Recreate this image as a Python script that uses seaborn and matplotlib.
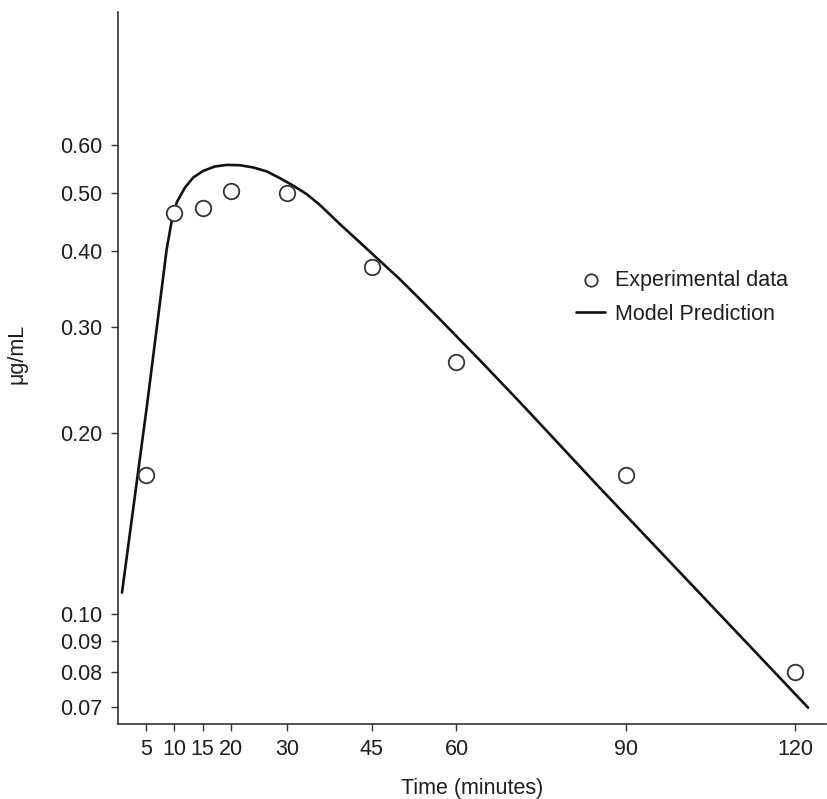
import matplotlib
matplotlib.use("Agg")
import matplotlib.pyplot as plt
import matplotlib.ticker as mticker
import seaborn as sns
import pandas as pd

# Experimental data
time_obs = [5, 10, 15, 20, 30, 45, 60, 90, 120]
conc_obs = [0.170, 0.463, 0.472, 0.505, 0.501, 0.377, 0.262, 0.170, 0.080]

# Model prediction
time_model = [0.71, 5.14, 8.63, 9.52, 10.41, 11.88, 13.35, 15.12, 17.2, 19.27, 21.63,
              23.99, 26.37, 28.72, 31.08, 33.46, 35.82, 39.36, 42.91, 46.45, 50.0,
              53.55, 57.09, 64.18, 71.28, 85.46, 103.19, 122.34]
conc_model = [0.1084, 0.2219, 0.4034, 0.4494, 0.4826, 0.5109, 0.5309, 0.5445, 0.5537,
              0.5570, 0.5563, 0.5516, 0.5433, 0.5294, 0.5144, 0.4980, 0.4776, 0.4439,
              0.4138, 0.3857, 0.3594, 0.3331, 0.3084, 0.2636, 0.2245, 0.1617, 0.1080,
              0.0698]

x_ticks = [5, 10, 15, 20, 30, 45, 60, 90, 120]
y_ticks = [0.07, 0.08, 0.09, 0.10, 0.20, 0.30, 0.40, 0.50, 0.60]
y_tick_labels = ["0.07", "0.08", "0.09", "0.10", "0.20", "0.30", "0.40", "0.50", "0.60"]

sns.set_style("ticks")
plt.rcParams["font.family"] = ["Liberation Sans", "DejaVu Sans"]
plt.rcParams["font.size"] = 15.5

fig = plt.figure(figsize=(8.28, 7.99), dpi=100)
ax = fig.add_axes([0.1425, 0.094, 0.855, 0.891])

df_model = pd.DataFrame({"t": time_model, "c": conc_model})
df_obs = pd.DataFrame({"t": time_obs, "c": conc_obs})

ink = "#1e1e1e"
sns.lineplot(data=df_model, x="t", y="c", ax=ax, color="#111111", linewidth=1.9,
             label="Model Prediction", zorder=2, sort=False,
             solid_joinstyle="round", solid_capstyle="round")
sns.scatterplot(data=df_obs, x="t", y="c", ax=ax, s=125, facecolor="white",
                edgecolor="#333333", linewidth=1.3, label="Experimental data", zorder=3)

ax.set_yscale("log")
ax.set_xlim(0, 125.5)
ax.set_ylim(0.0656, 1.0)
ax.xaxis.set_major_locator(mticker.FixedLocator(x_ticks))
ax.yaxis.set_major_locator(mticker.FixedLocator(y_ticks))
ax.yaxis.set_major_formatter(mticker.FixedFormatter(y_tick_labels))
ax.yaxis.set_minor_locator(mticker.NullLocator())
ax.xaxis.set_minor_locator(mticker.NullLocator())

for side in ["top", "right"]:
    ax.spines[side].set_visible(False)
for side in ["left", "bottom"]:
    ax.spines[side].set_color("#333333")
    ax.spines[side].set_linewidth(1.2)

ax.tick_params(axis="both", direction="out", length=5, width=1.0, color="#333333",
               labelcolor=ink, labelsize=15.5, pad=6)

ax.set_xlabel("Time (minutes)", color=ink, fontsize=15.5, labelpad=13)
ax.set_ylabel("\u03bcg/mL", color=ink, fontsize=15.5)
ax.yaxis.set_label_coords(-0.128, 0.52)

handles, labels = ax.get_legend_handles_labels()
order = [labels.index("Experimental data"), labels.index("Model Prediction")]
leg = ax.legend([handles[i] for i in order], [labels[i] for i in order],
                loc="upper left", bbox_to_anchor=(0.62, 0.665), frameon=False,
                fontsize=15.5, handlelength=1.35, handletextpad=0.45, labelspacing=0.6,
                markerscale=0.8)
for t in leg.get_texts():
    t.set_color(ink)

fig.savefig("out.png", dpi=100, facecolor="white")
